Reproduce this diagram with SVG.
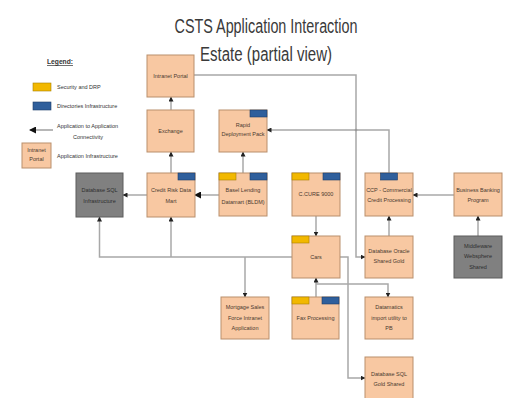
<svg xmlns="http://www.w3.org/2000/svg" width="507" height="398" viewBox="0 0 507 398">
<style>
.n{fill:#f8c8a2;stroke:#b98f6c;stroke-width:1}
.g{fill:#808080;stroke:#5c5c5c;stroke-width:1}
.y{fill:#f2b800;stroke:#a88000;stroke-width:0.6}
.b{fill:#2f5f9c;stroke:#1d3d68;stroke-width:0.6}
.t{font-family:"Liberation Sans",Arial,sans-serif;font-size:5.5px;fill:#4a3a30;text-anchor:middle}
.tg{fill:#2e2e2e}
.lt{font-family:"Liberation Sans",Arial,sans-serif;font-size:5.5px;fill:#333}
.c{fill:none;stroke:#a8a8a8;stroke-width:1.5}
</style>
<defs>
<marker id="ar" markerUnits="userSpaceOnUse" markerWidth="5" markerHeight="5" refX="4.5" refY="2.5" orient="auto">
<path d="M0,0 L5,2.5 L0,5 z" fill="#222"/>
</marker>
<marker id="arl" markerUnits="userSpaceOnUse" markerWidth="7" markerHeight="7" refX="6" refY="3.5" orient="auto">
<path d="M0,0 L7,3.5 L0,7 z" fill="#111"/>
</marker>
</defs>
<rect width="507" height="398" fill="#fff"/>
<g id="title">
<text x="266" y="33" font-family="'Liberation Sans',Arial,sans-serif" font-size="20" fill="#3a3a3a" text-anchor="middle" textLength="183" lengthAdjust="spacingAndGlyphs">CSTS Application Interaction</text>
<text x="266" y="61" font-family="'Liberation Sans',Arial,sans-serif" font-size="20" fill="#3a3a3a" text-anchor="middle" textLength="132" lengthAdjust="spacingAndGlyphs">Estate (partial view)</text>
</g>
<g id="legend">
<text x="47" y="64" font-family="'Liberation Sans',Arial,sans-serif" font-size="7" font-weight="bold" fill="#333" text-decoration="underline" textLength="26" lengthAdjust="spacingAndGlyphs">Legend:</text>
<rect class="y" x="33" y="83" width="18" height="8"/>
<text class="lt" x="57" y="89">Security and DRP</text>
<rect class="b" x="33" y="102" width="18" height="8"/>
<text class="lt" x="57" y="108">Directories Infrastructure</text>
<path d="M53,130 L30,130" stroke="#888" stroke-width="1.2" marker-end="url(#arl)"/>
<text class="lt" x="57" y="128">Application to Application</text>
<text class="lt" x="88" y="139" text-anchor="middle">Connectivity</text>
<rect class="n" x="22" y="143" width="29" height="25"/>
<text class="t" x="36.5" y="152">Intranet</text>
<text class="t" x="36.5" y="161">Portal</text>
<text class="lt" x="57" y="158">Application Infrastructure</text>
</g>
<g id="connectors">
<path class="c" d="M171,110 L171,97" marker-end="url(#ar)"/>
<path class="c" d="M171,173 L171,152" marker-end="url(#ar)"/>
<path class="c" d="M243,173 L243,152" marker-end="url(#ar)"/>
<path class="c" d="M219,195 L195,195" marker-end="url(#arl)"/>
<path class="c" d="M147,195 L123,195" marker-end="url(#ar)"/>
<path class="c" d="M194,75 L356,75 L356,257 L365,257" marker-end="url(#ar)"/>
<path class="c" d="M389,173 L389,130 L267,130" marker-end="url(#ar)"/>
<circle cx="356" cy="130" r="1.3" fill="#999"/>
<path class="c" d="M454,195 L413,195" marker-end="url(#ar)"/>
<path class="c" d="M478,236 L478,216" marker-end="url(#ar)"/>
<path class="c" d="M389,236 L389,216" marker-end="url(#ar)"/>
<path class="c" d="M316,216 L316,236" marker-end="url(#ar)"/>
<path class="c" d="M292,257 L99.5,257 L99.5,217" marker-end="url(#ar)"/>
<path class="c" d="M171,257 L171,217" marker-end="url(#ar)"/>
<path class="c" d="M245,257 L245,297" marker-end="url(#ar)"/>
<path class="c" d="M340,257 L348,257 L348,378 L365,378" marker-end="url(#ar)"/>
<path class="c" d="M316,297 L316,278" marker-end="url(#ar)"/>
<path class="c" d="M316,284 L388,284 L388,297" marker-end="url(#ar)"/>
</g>
<g id="intranet-portal"><rect class="n" x="147" y="55" width="47" height="42"/><text class="t" x="170.5" y="78">Intranet Portal</text></g>
<g id="exchange"><rect class="n" x="147" y="110" width="47" height="42"/><text class="t" x="170.5" y="133">Exchange</text></g>
<g id="rapid-deployment"><rect class="n" x="219" y="110" width="48" height="42"/><rect class="b" x="250" y="110" width="17" height="7"/><text class="t" x="243" y="126.5">Rapid</text><text class="t" x="243" y="136">Deployment Pack</text></g>
<g id="db-sql-infra"><rect class="g" x="76" y="173" width="47" height="44"/><text class="t tg" x="99.5" y="192">Database SQL</text><text class="t tg" x="99.5" y="203">Infrastructure</text></g>
<g id="credit-risk"><rect class="n" x="147" y="173" width="48" height="44"/><rect class="b" x="178" y="173" width="17" height="7"/><text class="t" x="171" y="192">Credit Risk Data</text><text class="t" x="171" y="203">Mart</text></g>
<g id="basel"><rect class="n" x="219" y="173" width="48" height="43"/><rect class="y" x="219" y="173" width="17" height="7"/><rect class="b" x="250" y="173" width="17" height="7"/><text class="t" x="243" y="192">Basel Lending</text><text class="t" x="243" y="204">Datamart (BLDM)</text></g>
<g id="ccure"><rect class="n" x="292" y="173" width="48" height="43"/><rect class="y" x="292" y="173" width="17" height="7"/><rect class="b" x="323" y="173" width="17" height="7"/><text class="t" x="316" y="196">C.CURE 9000</text></g>
<g id="ccp"><rect class="n" x="365" y="173" width="48" height="43"/><rect class="b" x="380.5" y="173" width="17" height="7"/><text class="t" x="389" y="192">CCP - Commercial</text><text class="t" x="389" y="202">Credit Processing</text></g>
<g id="business-banking"><rect class="n" x="454" y="173" width="48" height="43"/><text class="t" x="478" y="192">Business Banking</text><text class="t" x="478" y="202">Program</text></g>
<g id="cars"><rect class="n" x="292" y="236" width="48" height="42"/><rect class="y" x="292" y="236" width="17" height="7"/><text class="t" x="316" y="259">Cars</text></g>
<g id="db-oracle"><rect class="n" x="365" y="236" width="48" height="42"/><text class="t" x="389" y="253">Database Oracle</text><text class="t" x="389" y="263">Shared Gold</text></g>
<g id="middleware"><rect class="g" x="454" y="236" width="48" height="42"/><text class="t tg" x="478" y="247.5">Middleware</text><text class="t tg" x="478" y="258">Websphere</text><text class="t tg" x="478" y="268.5">Shared</text></g>
<g id="mortgage"><rect class="n" x="221" y="297" width="48" height="42"/><text class="t" x="245" y="309">Mortgage Sales</text><text class="t" x="245" y="319.5">Force Intranet</text><text class="t" x="245" y="330">Application</text></g>
<g id="fax"><rect class="n" x="292" y="297" width="47" height="42"/><rect class="y" x="292" y="297" width="17" height="7"/><rect class="b" x="322" y="297" width="17" height="7"/><text class="t" x="315.5" y="320">Fax Processing</text></g>
<g id="datamatics"><rect class="n" x="365" y="297" width="48" height="42"/><text class="t" x="389" y="309">Datamatics</text><text class="t" x="389" y="320">import utility to</text><text class="t" x="389" y="330">PB</text></g>
<g id="db-sql-gold"><rect class="n" x="365" y="357" width="48" height="42"/><text class="t" x="389" y="376">Database SQL</text><text class="t" x="389" y="386">Gold Shared</text></g>
</svg>
